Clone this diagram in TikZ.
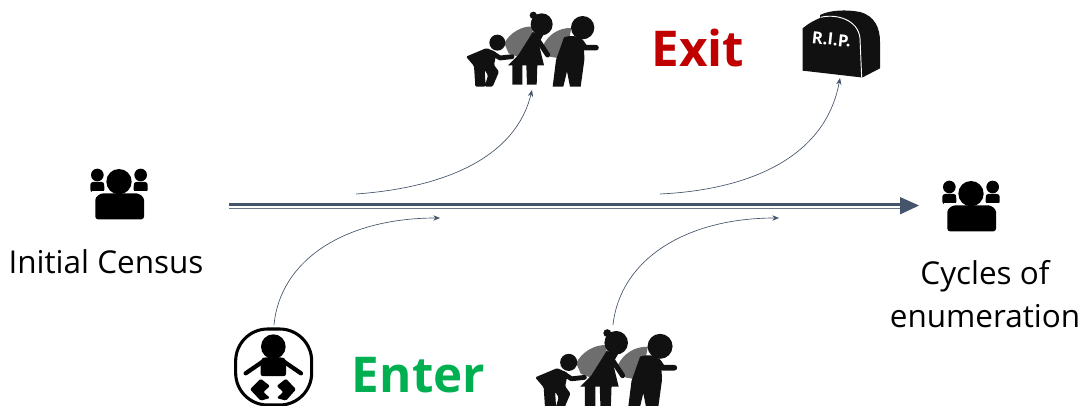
\documentclass[tikz,border=0pt]{standalone}
\usepackage{fontspec}
\setmainfont{Open Sans}
\usetikzlibrary{arrows.meta}
\definecolor{flow}{HTML}{44546A}
\definecolor{exitred}{HTML}{C00000}
\definecolor{entergreen}{HTML}{00B050}
\definecolor{packgray}{HTML}{6E6E6E}
\definecolor{inkblack}{HTML}{111111}
\tikzset{
  thinflow/.style={draw=flow,line width=0.5pt,-{Stealth[length=5pt,width=4pt]}},
  label/.style={font=\fontsize{23.6}{29}\selectfont,text=black,align=center,inner sep=0pt},
  big/.style={font=\fontsize{37}{40}\selectfont\bfseries,inner sep=0pt},
  limb/.style={draw=inkblack,line cap=round,line join=round},
}
\newcommand{\peopleicon}{%
  \fill[black] (82,45) circle (19);
  \fill[black] (212,45) circle (19);
  \fill[black,rounded corners=2pt] (61,97) -- (61,66) -- (103,66) -- (103,97) -- cycle;
  \fill[black,rounded corners=2pt] (191,97) -- (191,66) -- (233,66) -- (233,97) -- cycle;
  \fill[white] (147,65) circle (45);
  \fill[white] (66,92) rectangle (232,100);
  \fill[black,rounded corners=2pt] (76,178) -- (76,128) .. controls (76,110) and (90,100) .. (108,100) -- (190,100) .. controls (208,100) and (222,110) .. (222,128) -- (222,178) -- cycle;
  \fill[black] (147,65) circle (38);
}
\newcommand{\familyicon}{%
  \fill[packgray] (163,130) .. controls (178,100) and (215,76) .. (250,80) -- (242,135) -- (208,172) -- (176,160) -- cycle;
  \fill[packgray] (280,135) .. controls (295,105) and (325,83) .. (364,84) -- (345,178) -- (300,170) -- cycle;
  % child
  \fill[inkblack] (142,128) circle (24);
  \fill[inkblack,rounded corners=1pt] (48,170) -- (110,144) -- (140,158) -- (132,195) -- (147,215) -- (128,260) -- (104,260) -- (114,226) -- (104,210) -- (107,260) -- (76,260) -- (72,198) -- cycle;
  \draw[limb,line width=3.6pt] (125,158) -- (150,174) -- (186,170);
  % woman
  \fill[inkblack] (275,73) circle (33);
  \fill[inkblack] (250,46) circle (11);
  \fill[inkblack] (248,96) -- (280,105) -- (266,130) -- (282,196) -- (262,196) -- (260,254) -- (231,254) -- (229,196) -- (217,196) -- (217,254) -- (187,254) -- (187,196) -- (174,196) -- (205,165) -- (236,116) -- cycle;
  \draw[limb,line width=3.8pt] (258,112) -- (293,165);
  % man
  \fill[inkblack] (398,83) circle (35);
  \fill[inkblack] (342,112) .. controls (365,104) and (390,108) .. (402,125) -- (403,180) -- (392,260) -- (360,260) -- (351,214) -- (340,260) -- (308,260) -- (318,180) -- cycle;
  \draw[limb,line width=4.2pt] (392,125) -- (405,143) -- (438,143);
}
\begin{document}
\begin{tikzpicture}[x=0.75pt,y=-0.75pt]
\clip (0,0) rectangle (1082,406);
% people
\begin{scope}[shift={(70,160)},scale=1/3]\peopleicon\end{scope}
\begin{scope}[shift={(922,172)},scale=1/3]\peopleicon\end{scope}
\node[label] (census) at (106,262) {Initial Census};
\node[label] (cycles) at (985,294) {Cycles of\\[3pt]enumeration};
\node[big,text=exitred] (exit) at (698,48) {Exit};
\node[big,text=entergreen] (enter) at (418.5,375) {Enter};
% families
\begin{scope}[shift={(450,0)},scale=1/3]\familyicon\end{scope}
\begin{scope}[shift={(518,316.7)},scale=0.357]\familyicon\end{scope}
% tombstone
\begin{scope}[shift={(790,0)},scale=1/3]
  \fill[inkblack] (38,212) -- (38,85) .. controls (55,70) and (75,60) .. (90,54) -- (90,45) .. controls (120,30) and (170,28) .. (210,36) .. controls (255,48) and (270,85) .. (270,125) -- (270,205) -- (218,232) -- (212,232) -- cycle;
  \draw[white,line width=0.7pt] (92,52) .. controls (140,40) and (205,60) .. (210,115) -- (215,232);
\end{scope}
\node[font=\fontsize{12.6}{14}\selectfont\bfseries,text=white,rotate=-6,inner sep=0pt] (rip) at (831.5,39.5) {R.I.P.};
% baby
\begin{scope}[shift={(220,320)},scale=1/3]
  \draw[black,line width=2.3pt,rounded corners=24pt] (47,27) rectangle (275,255);
  \fill[black] (160,80) circle (37);
  \fill[black,rounded corners=1.5pt] (122,168) -- (122,118) .. controls (135,110) and (185,110) .. (198,118) -- (198,168) -- cycle;
  \draw[black,line width=3.2pt,line cap=round] (128,125) -- (77,160);
  \draw[black,line width=3.2pt,line cap=round] (192,125) -- (243,160);
  \fill[black,rounded corners=1pt] (122,176) -- (150,198) -- (130,216) -- (150,234) -- (122,242) -- (90,208) -- cycle;
  \fill[black,rounded corners=1pt] (198,176) -- (170,198) -- (190,216) -- (170,234) -- (198,242) -- (228,208) -- cycle;
\end{scope}
% connectors
\coordinate (mainstart) at (229,205.5);
\coordinate (mainend) at (903,205.5);
\coordinate (tip) at (919,205.5);
\coordinate (a1) at (356,194); \coordinate (a2) at (532,90);
\coordinate (b1) at (660,194); \coordinate (b2) at (840,78);
\coordinate (c1) at (274,325); \coordinate (c2) at (440,218);
\coordinate (d1) at (613,325); \coordinate (d2) at (779,218);
\draw[flow,line width=2.6pt] ([yshift=0.6pt]mainstart) -- ([yshift=0.6pt]mainend);
\draw[flow!80,line width=1.1pt] ([yshift=-2.3pt]mainstart) -- ([yshift=-2.3pt]mainend);
\fill[flow] (900,197) -- (tip) -- (900,214.5) -- cycle;
\draw[thinflow] (a1) .. controls (440,188) and (515,160) .. (a2);
\draw[thinflow] (b1) .. controls (745,190) and (825,160) .. (b2);
\draw[thinflow] (c1) .. controls (280,260) and (345,218) .. (c2);
\draw[thinflow] (d1) .. controls (620,260) and (685,218) .. (d2);
\end{tikzpicture}
\end{document}
